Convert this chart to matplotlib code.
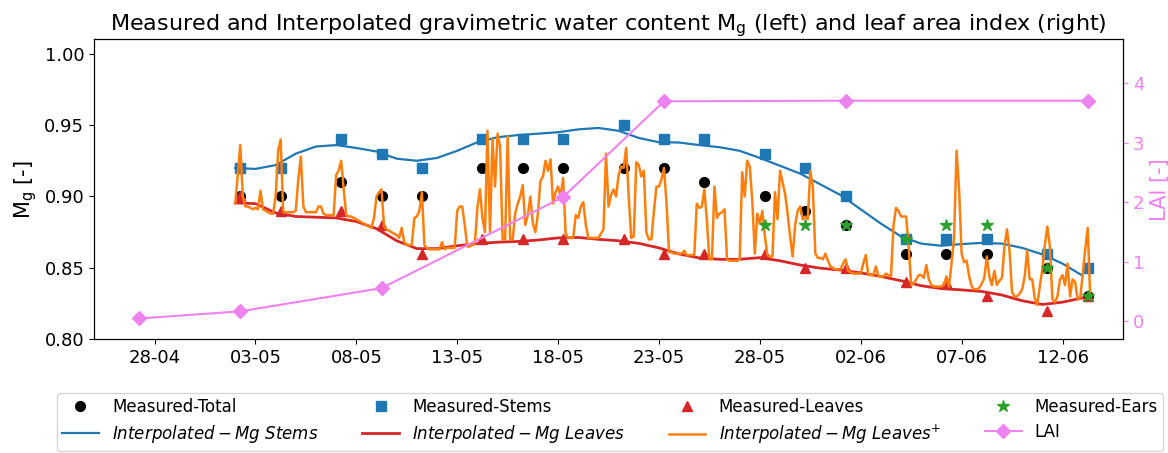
import numpy as np
import pandas as pd
import matplotlib
matplotlib.use("Agg")
import matplotlib.pyplot as plt
import matplotlib.dates as mdates

# sampling dates (measurements taken in the morning)
meas_dates = ["2018-05-02", "2018-05-04", "2018-05-07", "2018-05-09", "2018-05-11",
              "2018-05-14", "2018-05-16", "2018-05-18", "2018-05-21", "2018-05-23",
              "2018-05-25", "2018-05-28", "2018-05-30", "2018-06-01", "2018-06-04",
              "2018-06-06", "2018-06-08", "2018-06-11", "2018-06-13"]
mg_total = [0.90, 0.90, 0.91, 0.90, 0.90, 0.92, 0.92, 0.92, 0.92, 0.92,
            0.91, 0.90, 0.89, 0.88, 0.86, 0.86, 0.86, 0.85, 0.83]
mg_stems = [0.92, 0.92, 0.94, 0.93, 0.92, 0.94, 0.94, 0.94, 0.95, 0.94,
            0.94, 0.93, 0.92, 0.90, 0.87, 0.87, 0.87, 0.86, 0.85]
mg_leaves = [0.90, 0.89, 0.89, 0.88, 0.86, 0.87, 0.87, 0.87, 0.87, 0.86,
             0.86, 0.86, 0.85, 0.85, 0.84, 0.84, 0.83, 0.82, 0.83]

ears_dates = ["2018-05-28", "2018-05-30", "2018-06-01", "2018-06-04",
              "2018-06-06", "2018-06-08", "2018-06-11", "2018-06-13"]
mg_ears = [0.88, 0.88, 0.88, 0.87, 0.88, 0.88, 0.85, 0.83]

lai_dates = ["2018-04-27", "2018-05-02", "2018-05-09", "2018-05-18",
             "2018-05-23", "2018-06-01", "2018-06-13"]
lai = [0.05, 0.17, 0.56, 2.09, 3.70, 3.71, 3.71]

# daily interpolated Mg, 02-05 .. 13-06
interp_stems = [0.920, 0.9193, 0.922, 0.930, 0.935, 0.936, 0.934,
                0.9315, 0.9265, 0.925, 0.927, 0.932, 0.938, 0.9415, 0.943,
                0.944, 0.945, 0.947, 0.948, 0.946, 0.941, 0.938,
                0.9378, 0.936, 0.9345, 0.932, 0.927, 0.9215, 0.916,
                0.9085, 0.901, 0.891, 0.881, 0.872, 0.867, 0.8655,
                0.8667, 0.8675, 0.867, 0.864, 0.8595, 0.853, 0.8445]
interp_leaves = [0.8955, 0.895, 0.8885, 0.886, 0.8855, 0.885, 0.8825,
                 0.8775, 0.869, 0.8635, 0.8635, 0.8655, 0.867, 0.868, 0.8685,
                 0.8695, 0.871, 0.8713, 0.870, 0.869, 0.8672, 0.864,
                 0.8597, 0.857, 0.856, 0.856, 0.8572, 0.855, 0.852,
                 0.8498, 0.8485, 0.8465, 0.844, 0.841, 0.8375, 0.8355,
                 0.8346, 0.8335, 0.831, 0.827, 0.8244, 0.826, 0.829]

# 3-hourly Mg leaves+, one row per day starting 02-05 00:00
leaves_plus = [
    [0.895, 0.915, 0.936, 0.900, 0.893, 0.893, 0.892, 0.891],
    [0.892, 0.891, 0.904, 0.891, 0.890, 0.889, 0.888, 0.888],
    [0.900, 0.932, 0.940, 0.889, 0.889, 0.889, 0.889, 0.889],
    [0.890, 0.912, 0.928, 0.893, 0.889, 0.889, 0.889, 0.889],
    [0.889, 0.893, 0.893, 0.888, 0.887, 0.887, 0.887, 0.887],
    [0.915, 0.918, 0.925, 0.905, 0.887, 0.886, 0.886, 0.885],
    [0.884, 0.883, 0.882, 0.881, 0.880, 0.879, 0.878, 0.885],
    [0.900, 0.903, 0.905, 0.879, 0.877, 0.876, 0.875, 0.874],
    [0.873, 0.871, 0.878, 0.868, 0.866, 0.866, 0.866, 0.885],
    [0.886, 0.890, 0.903, 0.866, 0.864, 0.863, 0.863, 0.863],
    [0.863, 0.863, 0.868, 0.863, 0.864, 0.864, 0.864, 0.864],
    [0.890, 0.893, 0.893, 0.880, 0.865, 0.865, 0.866, 0.867],
    [0.892, 0.905, 0.885, 0.875, 0.946, 0.875, 0.940, 0.907],
    [0.944, 0.935, 0.870, 0.870, 0.942, 0.870, 0.870, 0.888],
    [0.895, 0.900, 0.908, 0.880, 0.887, 0.900, 0.881, 0.875],
    [0.888, 0.911, 0.914, 0.925, 0.918, 0.926, 0.895, 0.903],
    [0.907, 0.900, 0.913, 0.874, 0.871, 0.871, 0.871, 0.887],
    [0.885, 0.893, 0.896, 0.880, 0.871, 0.871, 0.871, 0.871],
    [0.871, 0.874, 0.877, 0.930, 0.893, 0.901, 0.905, 0.900],
    [0.915, 0.921, 0.920, 0.934, 0.900, 0.871, 0.872, 0.924],
    [0.922, 0.914, 0.918, 0.875, 0.870, 0.870, 0.890, 0.907],
    [0.907, 0.912, 0.920, 0.895, 0.861, 0.861, 0.860, 0.860],
    [0.860, 0.860, 0.862, 0.859, 0.859, 0.859, 0.859, 0.895],
    [0.892, 0.893, 0.905, 0.883, 0.856, 0.856, 0.907, 0.885],
    [0.888, 0.889, 0.891, 0.856, 0.855, 0.855, 0.855, 0.855],
    [0.856, 0.917, 0.900, 0.925, 0.921, 0.897, 0.860, 0.888],
    [0.881, 0.890, 0.872, 0.859, 0.858, 0.858, 0.903, 0.884],
    [0.918, 0.910, 0.902, 0.888, 0.872, 0.858, 0.880, 0.890],
    [0.893, 0.884, 0.886, 0.884, 0.918, 0.907, 0.860, 0.857],
    [0.857, 0.856, 0.860, 0.855, 0.851, 0.850, 0.849, 0.849],
    [0.849, 0.853, 0.856, 0.848, 0.847, 0.846, 0.846, 0.846],
    [0.846, 0.853, 0.859, 0.845, 0.845, 0.845, 0.851, 0.844],
    [0.844, 0.844, 0.846, 0.845, 0.844, 0.880, 0.892, 0.890],
    [0.886, 0.886, 0.886, 0.865, 0.838, 0.839, 0.842, 0.845],
    [0.845, 0.843, 0.852, 0.842, 0.838, 0.837, 0.837, 0.837],
    [0.837, 0.838, 0.844, 0.837, 0.853, 0.871, 0.932, 0.905],
    [0.860, 0.854, 0.855, 0.844, 0.837, 0.835, 0.835, 0.836],
    [0.839, 0.843, 0.858, 0.844, 0.838, 0.848, 0.838, 0.841],
    [0.843, 0.865, 0.877, 0.862, 0.833, 0.830, 0.830, 0.832],
    [0.835, 0.844, 0.862, 0.842, 0.842, 0.829, 0.824, 0.837],
    [0.849, 0.866, 0.879, 0.865, 0.828, 0.826, 0.830, 0.842],
    [0.845, 0.838, 0.853, 0.830, 0.842, 0.840, 0.828, 0.829],
    [0.845, 0.863, 0.878, 0.829],
]

t_meas = pd.to_datetime(meas_dates) + pd.Timedelta(hours=6)
t_ears = pd.to_datetime(ears_dates) + pd.Timedelta(hours=6)
t_lai = pd.to_datetime(lai_dates) + pd.Timedelta(hours=6)
t_daily = pd.date_range("2018-05-02", periods=len(interp_stems), freq="D")
plus = np.concatenate([np.array(r) for r in leaves_plus])
t_plus = pd.date_range("2018-05-02", periods=len(plus), freq="3h")

fig = plt.figure(figsize=(11.68, 4.53), dpi=100)
ax = fig.add_axes([0.0805, 0.251, 0.881, 0.662])

h_tot, = ax.plot(t_meas, mg_total, "o", color="black", ms=7, ls="none", label="Measured-Total")
h_st, = ax.plot(t_meas, mg_stems, "s", color="tab:blue", ms=7, ls="none", label="Measured-Stems")
h_lv, = ax.plot(t_meas, mg_leaves, "^", color="tab:red", ms=7.5, ls="none", label="Measured-Leaves")
h_is, = ax.plot(t_daily, interp_stems, color="tab:blue", lw=1.6,
                label=r"$Interpolated-Mg\ Stems$")
h_il, = ax.plot(t_daily, interp_leaves, color="tab:red", lw=2,
                label=r"$Interpolated-Mg\ Leaves$")
h_ip, = ax.plot(t_plus, plus, color="tab:orange", lw=1.8,
                label=r"$Interpolated-Mg\ Leaves^{+}$")
h_ea, = ax.plot(t_ears, mg_ears, "*", color="tab:green", ms=9, ls="none", label="Measured-Ears")

ax.set_ylim(0.80, 1.01)
ax.set_yticks([0.80, 0.85, 0.90, 0.95, 1.00])
ax.yaxis.set_major_formatter(matplotlib.ticker.FormatStrFormatter("%.2f"))
ax.set_xlim(pd.Timestamp("2018-04-25"), pd.Timestamp("2018-06-15"))
ax.set_xticks(pd.date_range("2018-04-28", periods=10, freq="5D"))
ax.xaxis.set_major_formatter(mdates.DateFormatter("%d-%m"))
ax.tick_params(labelsize=13)
ax.set_ylabel(r"M$_\mathrm{g}$ [-]", fontsize=15)
ax.set_title(r"Measured and Interpolated gravimetric water content M$_\mathrm{g}$ (left) and leaf area index (right)",
             fontsize=16)

ax2 = ax.twinx()
h_lai, = ax2.plot(t_lai, lai, "D-", color="violet", ms=7, lw=1.5, label="LAI")
ax2.set_ylim(-0.3, 4.74)
ax2.set_yticks([0, 1, 2, 3, 4])
ax2.tick_params(axis="y", colors="violet", labelsize=13)
ax2.set_ylabel("LAI [-]", color="violet", fontsize=15)

handles = [h_tot, h_is, h_st, h_il, h_lv, h_ip, h_ea, h_lai]
fig.legend(handles, [h.get_label() for h in handles], ncol=4, fontsize=12,
           loc="upper left", bbox_to_anchor=(0.0488, 0.005, 0.947, 0.1275),
           mode="expand", handlelength=2.2, borderaxespad=0.0,
           borderpad=0.3, labelspacing=0.4)

fig.savefig("out.png", dpi=100)
